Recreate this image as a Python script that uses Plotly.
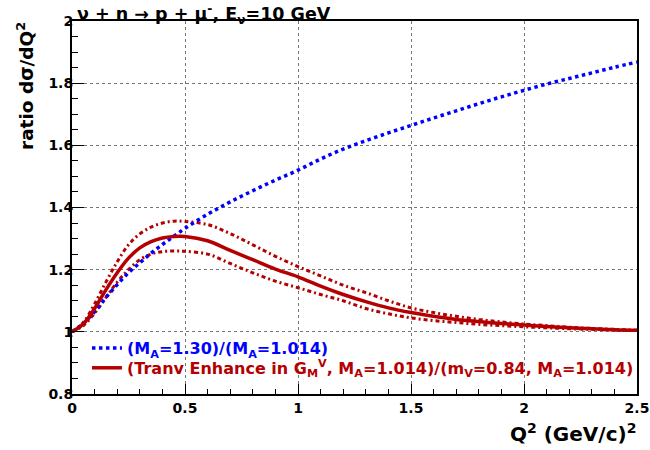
import plotly.graph_objects as go

q2 = [0, 0.05, 0.1, 0.15, 0.2, 0.25, 0.3, 0.35, 0.4, 0.45, 0.5, 0.6, 0.7, 0.8, 0.9, 1.0,
      1.1, 1.2, 1.3, 1.4, 1.5, 1.6, 1.7, 1.8, 1.9, 2.0, 2.1, 2.2, 2.3, 2.4, 2.5]

ratio_ma130 = [1.0, 1.027, 1.065, 1.11, 1.152, 1.19, 1.222, 1.253, 1.281, 1.307, 1.333, 1.378,
               1.418, 1.454, 1.488, 1.52, 1.556, 1.588, 1.615, 1.64, 1.664, 1.688, 1.711,
               1.734, 1.756, 1.777, 1.797, 1.815, 1.833, 1.851, 1.868]

ratio_tem = [1.0, 1.025, 1.075, 1.135, 1.19, 1.237, 1.27, 1.29, 1.302, 1.307, 1.307, 1.293,
             1.262, 1.232, 1.202, 1.177, 1.147, 1.12, 1.097, 1.077, 1.062, 1.05, 1.04,
             1.033, 1.027, 1.022, 1.017, 1.013, 1.01, 1.007, 1.005]

ratio_tem_hi = [1.0, 1.03, 1.09, 1.16, 1.225, 1.28, 1.315, 1.337, 1.35, 1.356, 1.355, 1.345,
                1.316, 1.28, 1.243, 1.21, 1.18, 1.15, 1.126, 1.1, 1.077, 1.062, 1.05,
                1.04, 1.032, 1.025, 1.02, 1.015, 1.011, 1.008, 1.005]

ratio_tem_lo = [1.0, 1.02, 1.06, 1.11, 1.16, 1.2, 1.232, 1.25, 1.258, 1.26, 1.259, 1.25,
                1.22, 1.19, 1.163, 1.142, 1.12, 1.1, 1.075, 1.058, 1.045, 1.036, 1.03,
                1.024, 1.02, 1.016, 1.013, 1.01, 1.008, 1.006, 1.004]

BLUE = "#0000ff"
RED = "#b40000"
FONT = "DejaVu Sans"

fig = go.Figure()

fig.add_trace(go.Scatter(x=q2, y=ratio_tem_hi, mode="lines", line_shape="spline",
                         line=dict(color=RED, width=3, dash="4px,3px,2px,3px"),
                         showlegend=False, hoverinfo="skip"))
fig.add_trace(go.Scatter(x=q2, y=ratio_tem_lo, mode="lines", line_shape="spline",
                         line=dict(color=RED, width=3, dash="4px,3px,2px,3px"),
                         showlegend=False, hoverinfo="skip"))
fig.add_trace(go.Scatter(x=q2, y=ratio_ma130, mode="lines", line_shape="spline",
                         line=dict(color=BLUE, width=3.5, dash="dot"), legend="legend",
                         name="<span style='color:#0000ff'>(M<sub>A</sub>=1.30)/(M<sub>A</sub>=1.014)</span>"))
fig.add_trace(go.Scatter(x=q2, y=ratio_tem, mode="lines", line_shape="spline",
                         line=dict(color=RED, width=3.5), legend="legend2",
                         name="<span style='color:#b40000'>(Tranv Enhance in G<sub>M</sub><sup>V</sup>, M<sub>A</sub>=1.014)/(m<sub>V</sub>=0.84, M<sub>A</sub>=1.014)</span>"))

axis_common = dict(
    showline=True, mirror=True, linecolor="black", linewidth=2,
    ticks="inside", tickcolor="black", tickwidth=1, automargin=False,
    showgrid=True, gridcolor="#777777", griddash="dot", gridwidth=1,
    zeroline=False,
    tickfont=dict(family=FONT, size=14, color="black", weight="bold"),
)

fig.update_xaxes(range=[0, 2.5], dtick=0.5, ticklen=10,
                 minor=dict(dtick=0.1, ticks="inside", ticklen=5, tickcolor="black", showgrid=False),
                 **axis_common)
fig.update_yaxes(range=[0.8, 2.0], dtick=0.2, ticklen=12, ticklabelstandoff=-6,
                 minor=dict(dtick=0.05, ticks="inside", ticklen=6, tickcolor="black", showgrid=False),
                 **axis_common)

fig.add_annotation(text="ν + n → p + μ<sup>-</sup>, E<sub>ν</sub>=10 GeV",
                   xref="paper", yref="paper", x=0.006, y=1.018, xanchor="left", yanchor="middle",
                   showarrow=False, font=dict(family=FONT, size=17.5, color="black", weight="bold"))
fig.add_annotation(text="ratio dσ/dQ<sup>2</sup>", textangle=-90,
                   xref="paper", yref="paper", x=-0.083, y=1.003, xanchor="center", yanchor="top",
                   showarrow=False, font=dict(family=FONT, size=18.5, color="black", weight="bold"))
fig.add_annotation(text="Q<sup>2</sup> (GeV/c)<sup>2</sup>",
                   xref="paper", yref="paper", x=1.002, y=-0.105, xanchor="right", yanchor="middle",
                   showarrow=False, font=dict(family=FONT, size=20, color="black", weight="bold"))

leg_common = dict(xanchor="left", yanchor="middle", bgcolor="rgba(0,0,0,0)", borderwidth=0,
                  font=dict(family=FONT, size=16, weight="bold"))

fig.update_layout(
    width=650, height=450,
    margin=dict(l=72, r=13, t=21, b=56, autoexpand=False),
    paper_bgcolor="white", plot_bgcolor="white",
    legend=dict(x=0.0265, y=0.123, **leg_common),
    legend2=dict(x=0.0265, y=0.07, **leg_common),
)

fig.write_html("out.html", config={"displayModeBar": False},
               post_script="document.body.style.margin='0';document.body.style.overflow='hidden';")
